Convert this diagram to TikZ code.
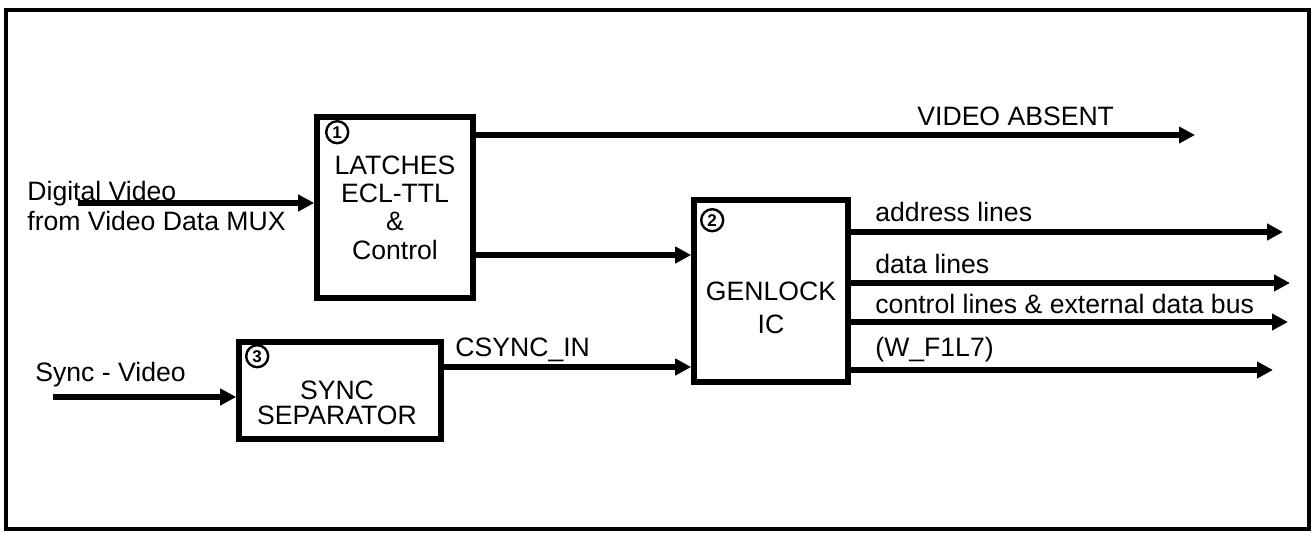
\documentclass[tikz,border=0pt]{standalone}
\usepackage{fontspec}
\setmainfont{Liberation Sans}
\usetikzlibrary{arrows.meta,positioning}

\begin{document}
\begin{tikzpicture}[x=0.5pt, y=-0.5pt, font=\fontsize{13.3}{14.2}\selectfont]
\tikzstyle{block}=[draw, line width=2.8pt, inner sep=0pt, align=center]
\tikzstyle{num}=[draw, circle, line width=1.2pt, minimum size=11pt, inner sep=0pt, font=\fontsize{8.5}{8.5}\selectfont\bfseries]
\tikzstyle{sig}=[line width=2.8pt, -{Triangle[length=8pt,width=8pt]}]
\tikzstyle{lbl}=[inner sep=0pt, anchor=base west]
\useasboundingbox (0,0) rectangle (1316,533);
\draw[line width=1.7pt] (6,10) rectangle (1309,529);
\node[block, minimum width=78pt, minimum height=90.5pt] (latch) at (395,207.5) {LATCHES\\ECL-TTL\\\&\\Control};
\node[block, minimum width=77pt, minimum height=91pt] (genlock) at (771,291) {};
\node[block, minimum width=101pt, minimum height=48.5pt] (syncsep) at (340,390.5) {};
\node[align=center, inner sep=0pt] (gentext) at ([yshift=-8.5pt]genlock.center) {GENLOCK\\[2.3pt]IC};
\node[align=center, inner sep=0pt] (synctext) at ([xshift=-1.5pt,yshift=-6pt]syncsep.center) {SYNC\\[-1.7pt]SEPARATOR};
\node[num] (n1) at ([shift={(23,18)}]latch.north west) {1};
\node[num] (n2) at ([shift={(21,23)}]genlock.north west) {2};
\node[num] (n3) at ([shift={(21,17)}]syncsep.north west) {3};
\coordinate (dvin) at (78,203);
\coordinate (svin) at (53,397);
\coordinate (vaend) at (1195,135);
\coordinate (lg) at (0,255);
\coordinate (cs) at (0,367);
\draw[sig] (dvin) -- (latch.west |- dvin);
\draw[sig] (svin) -- (syncsep.west |- svin);
\draw[sig] (latch.east |- vaend) -- (vaend);
\draw[sig] (latch.east |- lg) -- (genlock.west |- lg);
\draw[sig] (syncsep.east |- cs) -- (genlock.west |- cs);
\foreach \n/\y/\e in {addr/232/1283,data/283/1290,ctrl/322/1288,wfl/370/1273}{
  \coordinate (\n) at (\e,\y);
  \draw[sig] (genlock.east |- \n) -- (\n);}
\node[lbl] (dv1) at (27,201) {Digital Video};
\node[lbl] (dv2) at (27,231) {from Video Data MUX};
\node[lbl] (sv) at (35,382) {Sync - Video};
\node[lbl] (csl) at (455,357) {CSYNC\_IN};
\node[lbl] (val) at (917,126) {VIDEO ABSENT};
\node[lbl] (addrl) at (875,222) {address lines};
\node[lbl] (datal) at (875,274) {data lines};
\node[lbl] (ctrll) at (875,314) {control lines \& external data bus};
\node[lbl] (wfll) at (875,357) {(W\_F1L7)};
\end{tikzpicture}
\end{document}
